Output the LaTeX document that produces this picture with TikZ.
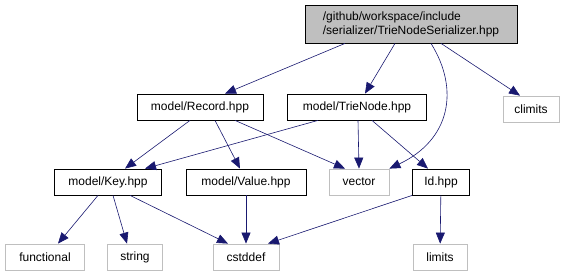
\documentclass[tikz,border=0pt]{standalone}
\usepackage{fontspec}
\setmainfont{Liberation Sans}
\usetikzlibrary{arrows.meta}
\definecolor{edgeblue}{HTML}{191970}
\definecolor{sysgray}{HTML}{BFBFBF}
\tikzstyle{header} = [rectangle, draw=black, thick, inner sep=0pt, minimum height=26pt, font=\fontsize{12}{14}\selectfont]
\tikzstyle{sysheader} = [rectangle, draw=sysgray, thick, inner sep=0pt, minimum height=26pt, font=\fontsize{12}{14}\selectfont]
\tikzstyle{arrow} = [draw=edgeblue, semithick, -{Triangle[length=11pt,width=9pt]}]

\begin{document}
\begin{tikzpicture}[x=1pt, y=-1pt]
	\useasboundingbox (0,0) rectangle (568,276);

	\node (top) [header, fill=sysgray, minimum width=212pt, minimum height=38pt, align=left] at (411,24) {/github/workspace/include\\/serializer/TrieNodeSerializer.hpp};

	\node (record) [header, minimum width=126pt] at (200,107) {model/Record.hpp};
	\node (trienode) [header, minimum width=139pt] at (357,107) {model/TrieNode.hpp};
	\node (climits) [sysheader, minimum width=56pt] at (531,109) {climits};

	\node (key) [header, minimum width=107pt] at (108,182) {model/Key.hpp};
	\node (value) [header, minimum width=120pt] at (246,182) {model/Value.hpp};
	\node (vector) [sysheader, minimum width=60pt] at (359,182) {vector};
	\node (id) [header, minimum width=57pt] at (441,182) {Id.hpp};

	\node (functional) [sysheader, minimum width=79pt] at (45,257) {functional};
	\node (string) [sysheader, minimum width=55pt] at (135,257) {string};
	\node (cstddef) [sysheader, minimum width=66pt] at (246,257) {cstddef};
	\node (limits) [sysheader, minimum width=54pt] at (440,257) {limits};

	\draw [arrow] ([xshift=-66pt]top.south) -- ([xshift=25pt]record.north);
	\draw [arrow] ([xshift=-16pt]top.south) -- ([xshift=8pt]trienode.north);
	\draw [arrow] ([xshift=20pt]top.south) .. controls (460,90) and (450,140) .. (vector.north east);
	\draw [arrow] ([xshift=30pt]top.south) -- ([xshift=-11pt]climits.north);

	\draw [arrow] ([xshift=-10pt]record.south) -- ([xshift=17pt]key.north);
	\draw [arrow] ([xshift=15pt]record.south) -- ([xshift=-6pt]value.north);
	\draw [arrow] ([xshift=35pt]record.south) -- ([xshift=-14pt]vector.north);
	\draw [arrow] ([xshift=-39pt]trienode.south) -- ([xshift=37pt]key.north);
	\draw [arrow] ([xshift=1pt]trienode.south) -- (vector.north);
	\draw [arrow] ([xshift=15pt]trienode.south) -- ([xshift=-13pt]id.north);

	\draw [arrow] ([xshift=-10pt]key.south) -- ([xshift=13pt]functional.north);
	\draw [arrow] ([xshift=5pt]key.south) -- ([xshift=-8pt]string.north);
	\draw [arrow] ([xshift=22pt]key.south) -- ([xshift=-18pt]cstddef.north);
	\draw [arrow] (value) -- (cstddef);
	\draw [arrow] (id.south west) -- ([xshift=22pt]cstddef.north);
	\draw [arrow] (id) -- (limits);
\end{tikzpicture}
\end{document}
